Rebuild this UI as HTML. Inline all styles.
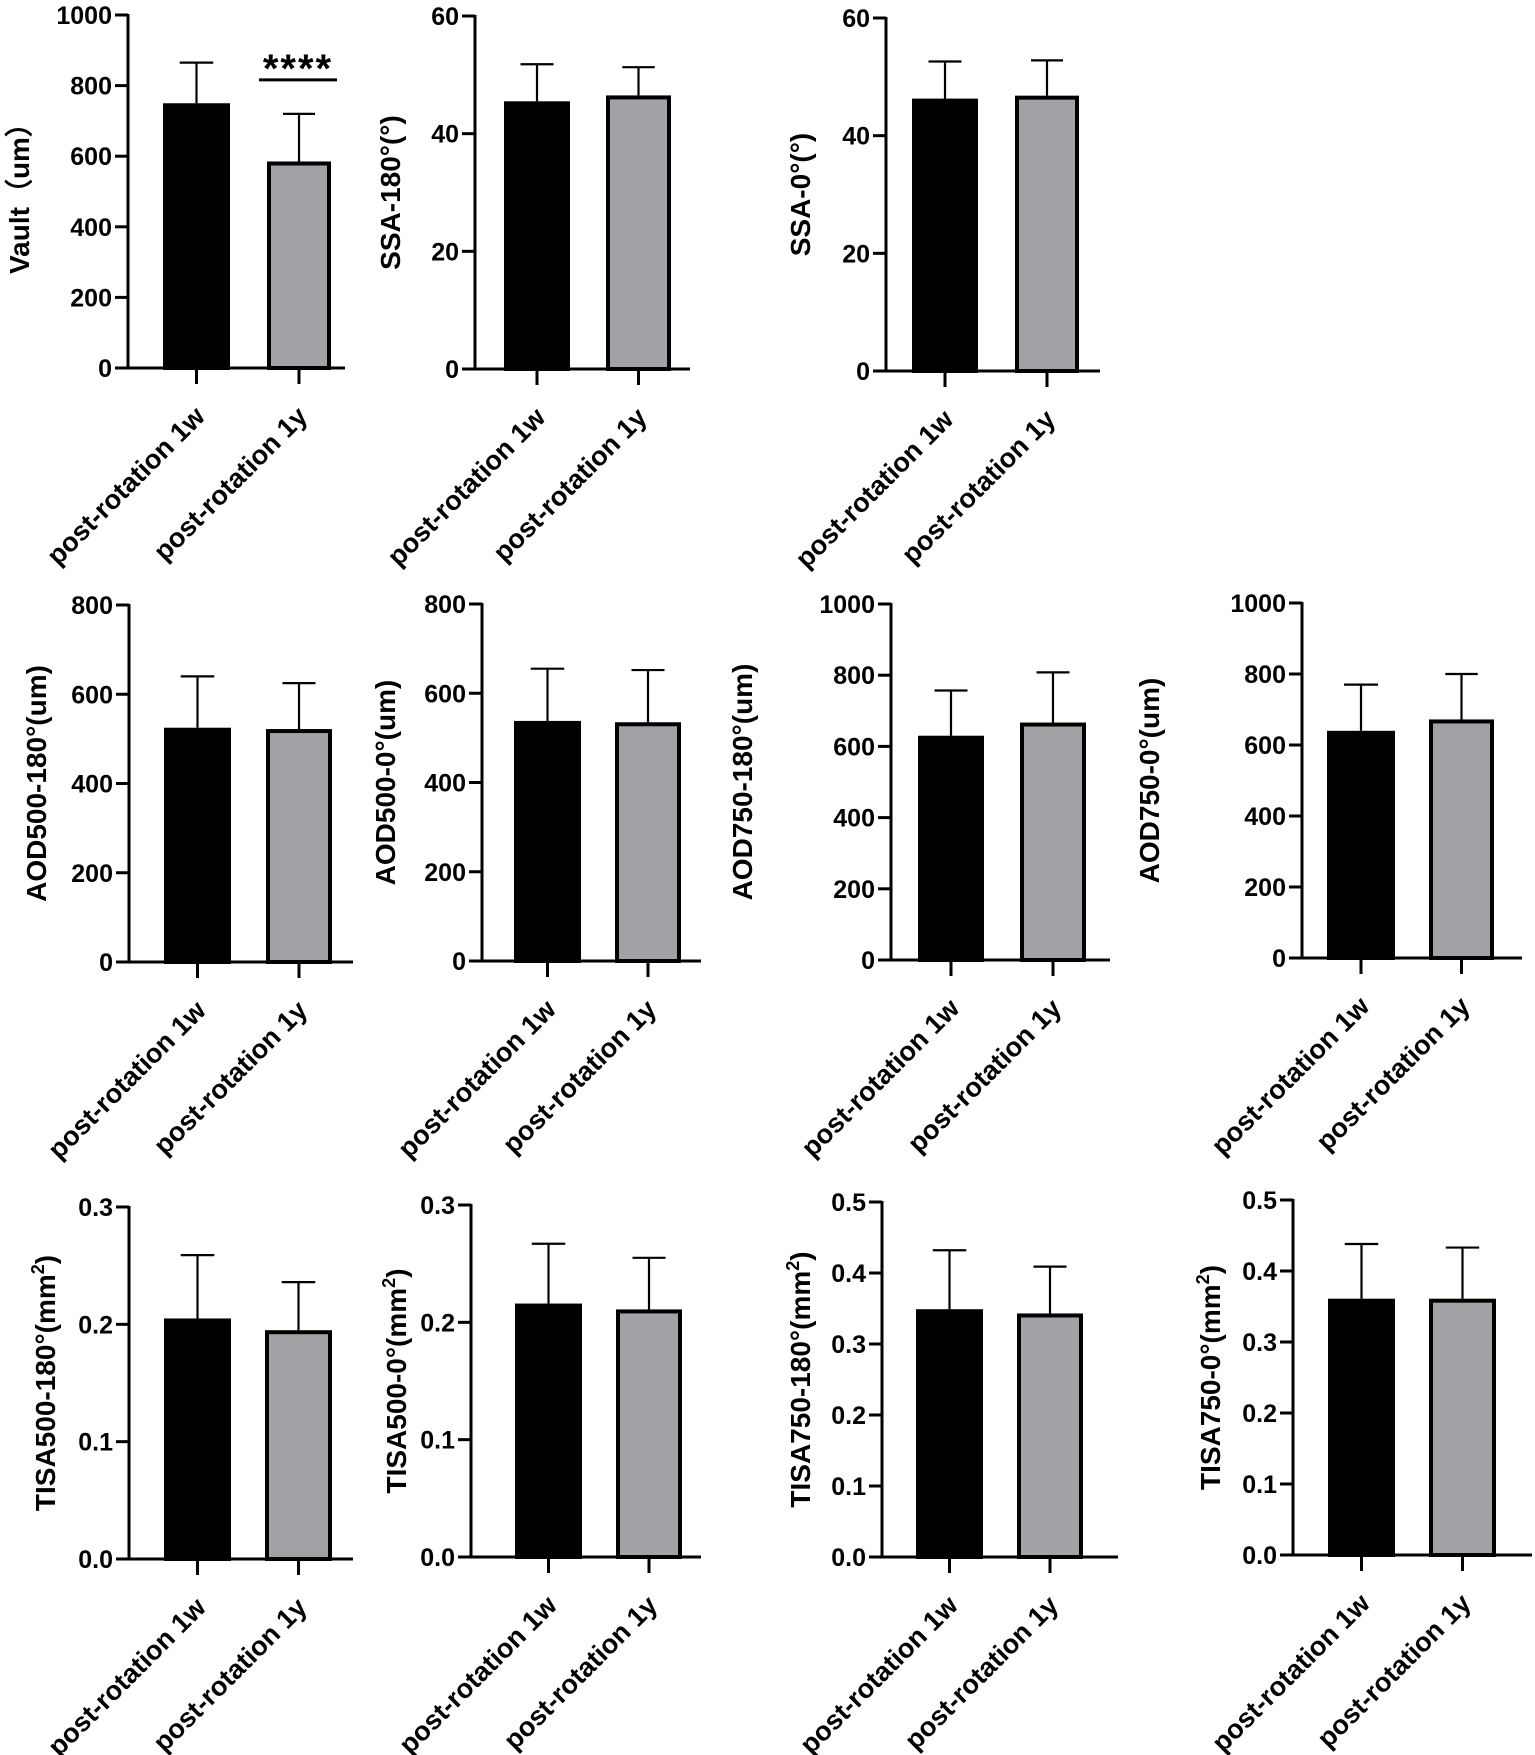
<!DOCTYPE html>
<html><head><meta charset="utf-8"><style>
html,body{margin:0;padding:0;background:#fff;}
svg{display:block;font-family:"Liberation Sans",Arial,sans-serif;font-weight:bold;}
</style></head><body>
<svg id="fig" width="1535" height="1755" viewBox="0 0 1535 1755" xmlns="http://www.w3.org/2000/svg"></svg>
<script>
const categories = ["post-rotation 1w", "post-rotation 1y"];
const titles = ["Vault（um）","SSA-180°(°)","SSA-0°(°)","AOD500-180°(um)","AOD500-0°(um)","AOD750-180°(um)","AOD750-0°(um)","TISA500-180°(mm2)","TISA500-0°(mm2)","TISA750-180°(mm2)","TISA750-0°(mm2)"];
const means1w = [750, 45.5, 46.3, 525, 538, 630, 640, 0.205, 0.216, 0.349, 0.361];
const means1y = [585, 46.5, 46.8, 522, 535, 667, 672, 0.195, 0.211, 0.343, 0.361];
const errTop1w = [865, 51.8, 52.6, 640, 655, 757, 770, 0.259, 0.267, 0.432, 0.438];
const errTop1y = [720, 51.3, 52.8, 625, 652, 808, 800, 0.236, 0.255, 0.409, 0.433];
const yMaxes = [1000, 60, 60, 800, 800, 1000, 1000, 0.3, 0.3, 0.5, 0.5];
const tickSteps = [200, 20, 20, 200, 200, 200, 200, 0.1, 0.1, 0.1, 0.1];
const tickDecimals = [0,0,0,0,0,0,0,1,1,1,1];
const significance = ["****","","","","","","","","","",""];

// layout (pixel geometry): axisX, topY, zeroY, axisEnd, bar1 [x0,x1], bar2 [x0,x1], titleX
const layout = [
 [128,15,368,345,[163,230],[267,331],19],
 [475,16,369,690,[504,570],[606,671],390],
 [886,18,371,1100,[912,978],[1015,1079],800],
 [129,605,962,353,[164,231],[266,332],36],
 [482,604,961,701,[514,581],[615,681],385],
 [891,604,960,1110,[918,984],[1020,1086],742],
 [1302,603,958,1522,[1327,1395],[1429,1494],1149],
 [129,1207,1559,353,[164,231],[265,332],45],
 [471,1205,1557,701,[515,582],[616,682],396],
 [882,1202,1557,1118,[916,983],[1017,1083],800],
 [1293,1200,1555,1532,[1328,1395],[1429,1496],1210]
];

const NS = "http://www.w3.org/2000/svg";
const svg = document.getElementById("fig");
function mk(tag, attrs, parent){const e=document.createElementNS(NS,tag);for(const k in attrs)e.setAttribute(k,attrs[k]);(parent||svg).appendChild(e);return e;}

for(let i=0;i<titles.length;i++){
  const [ax,top,zero,aend,b1,b2,tx]=layout[i];
  const g=mk("g",{});
  
  
  const y=v=>zero-(v/yMaxes[i])*(zero-top);
  const vals=[means1w[i],means1y[i]], tops=[errTop1w[i],errTop1y[i]], bx=[b1,b2], fills=["#000","#a2a2a6"];
  for(let j=0;j<2;j++){
    const cx=(bx[j][0]+bx[j][1])/2, w=bx[j][1]-bx[j][0];
    const eb=mk("line",{x1:cx,x2:cx,y1:y(vals[j]),y2:y(tops[j]),stroke:"#000","stroke-width":2.2},g);
    
    
    const cap=mk("line",{x1:cx-w/4,x2:cx+w/4,y1:y(tops[j]),y2:y(tops[j]),stroke:"#000","stroke-width":2.2},g);
    
    
    const r=mk("rect",{x:bx[j][0]+2,y:y(vals[j])+2,width:w-4,height:Math.max(0,zero-y(vals[j])-2),fill:fills[j],stroke:"#000","stroke-width":4},g);
    
    
    const t=mk("line",{x1:cx,x2:cx,y1:zero,y2:zero+16,stroke:"#000","stroke-width":3},g);
    
    
    const lx=cx+10, ly=zero+50;
    const lab=mk("text",{x:lx,y:ly,"text-anchor":"end","font-size":27,transform:`rotate(-45 ${lx} ${ly})`},g);
    lab.textContent=categories[j];
    
    
  }
  const ya=mk("line",{x1:ax,x2:ax,y1:top-1,y2:zero+1.5,stroke:"#000","stroke-width":3},g);
  
  
  const xa=mk("line",{x1:ax-1.5,x2:aend,y1:zero,y2:zero,stroke:"#000","stroke-width":3},g);
  
  
  const n=Math.round(yMaxes[i]/tickSteps[i]);
  for(let k=0;k<=n;k++){
    const v=k*tickSteps[i], yy=y(v);
    const tk=mk("line",{x1:ax-13,x2:ax,y1:yy,y2:yy,stroke:"#000","stroke-width":3},g);
    
    
    const tl=mk("text",{x:ax-16,y:yy+9,"text-anchor":"end","font-size":25},g);
    tl.textContent=v.toFixed(tickDecimals[i]);
    
    
  }
  const my=(top+zero)/2;
  const tt=mk("text",{x:tx+10,y:my,"text-anchor":"middle","font-size":28,transform:`rotate(-90 ${tx+10} ${my})`},g);
  
  
  const title=titles[i];
  if(title.endsWith("2)")){
    tt.appendChild(document.createTextNode(title.slice(0,-2)));
    const s=mk("tspan",{"font-size":18,dy:-11},tt); s.textContent="2";
    const c=mk("tspan",{dy:11},tt); c.textContent=")";
  } else tt.textContent=title;
  if(significance[i]){
    const x1=b2[0]-8, x2=b2[1]+6, sy=y(tops[1])-34;
    const sl=mk("line",{x1:x1,x2:x2,y1:sy,y2:sy,stroke:"#000","stroke-width":3},g);
    
    
    const st=mk("text",{x:(x1+x2)/2,y:sy+2,"text-anchor":"middle","font-size":40,"letter-spacing":2},g);
    st.textContent=significance[i];
    
    
  }
}
</script>
</body></html>
